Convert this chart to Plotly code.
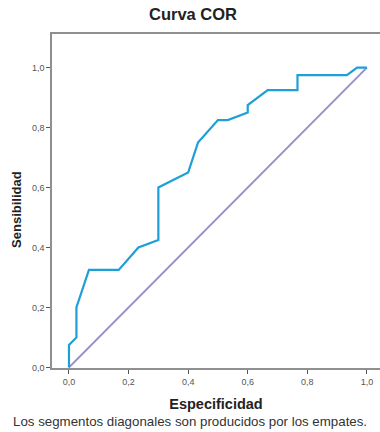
import plotly.graph_objects as go

# Curva COR (1 - especificidad vs sensibilidad)
especificidad = [0.0, 0.0, 0.025, 0.025, 0.067, 0.167, 0.233, 0.3, 0.3, 0.4, 0.433, 0.5, 0.533, 0.6, 0.6, 0.667, 0.767, 0.767, 0.933, 0.967, 1.0]
sensibilidad = [0.0, 0.075, 0.1, 0.2, 0.325, 0.325, 0.4, 0.425, 0.6, 0.65, 0.75, 0.825, 0.825, 0.85, 0.875, 0.925, 0.925, 0.975, 0.975, 1.0, 1.0]

ref_x = [0.0, 1.0]
ref_y = [0.0, 1.0]

tick_vals = [0.0, 0.2, 0.4, 0.6, 0.8, 1.0]
tick_text = ["0,0", "0,2", "0,4", "0,6", "0,8", "1,0"]

fig = go.Figure()

# Línea de referencia
fig.add_trace(go.Scatter(
    x=ref_x, y=ref_y, mode='lines',
    line=dict(color='#9b8fc8', width=2),
    showlegend=False, hoverinfo='skip'
))

# Curva
fig.add_trace(go.Scatter(
    x=especificidad, y=sensibilidad, mode='lines',
    line=dict(color='#1e9fd8', width=2.2),
    showlegend=False
))

axis_common = dict(
    showgrid=False, zeroline=False,
    showline=True, linecolor='#8f8f8f', linewidth=1.5, mirror=True,
    ticks='outside', ticklen=4, tickcolor='#555555',
    tickvals=tick_vals, ticktext=tick_text,
    tickfont=dict(size=9, color='#555555'),
)

fig.update_layout(
    width=380, height=432,
    margin=dict(l=52, r=0, t=34, b=64),
    paper_bgcolor='white', plot_bgcolor='white',
    font=dict(family='Liberation Sans, Arial, sans-serif', color='#222222'),
    title=dict(text='<b>Curva COR</b>', x=0.508, xanchor='center',
               y=0.967, yanchor='middle', font=dict(size=16.5)),
    xaxis=dict(axis_common, range=[-0.057, 1.044], automargin=False,
               title=dict(text='<b>Especificidad</b>', font=dict(size=14.5), standoff=13)),
    yaxis=dict(axis_common, range=[-0.002, 1.112], automargin=False),
    annotations=[
        dict(text='<b>Sensibilidad</b>', xref='paper', yref='paper',
             x=-0.11, y=0.476, xanchor='center', yanchor='middle',
             textangle=-90, showarrow=False, font=dict(size=13)),
        dict(text='Los segmentos diagonales son producidos por los empates.',
             xref='paper', yref='paper', x=0.42, y=-0.16,
             xanchor='center', yanchor='middle', showarrow=False,
             font=dict(size=13.3, color='#333333')),
    ],
)

# sin margen del body para que el gráfico ocupe exactamente la ventana
fig.write_html("out.html", config={'displayModeBar': False},
               post_script="document.body.style.margin='0px';")
